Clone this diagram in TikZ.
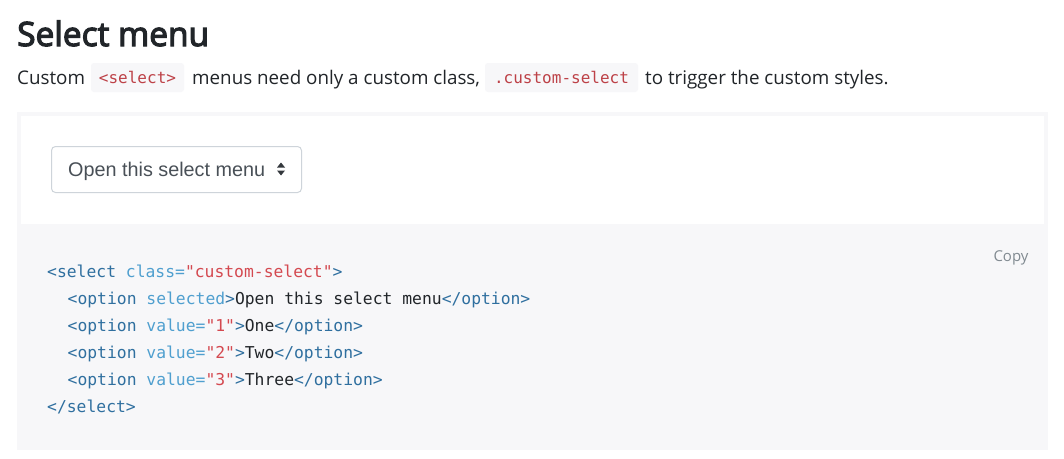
\documentclass[tikz,border=0pt]{standalone}
\usepackage{fontspec}
\setmainfont{Open Sans}
\newfontfamily\titlefont{Open Sans}[FakeBold=3.5]
\newfontfamily\codefont{DejaVu Sans Mono}
\newfontfamily\selfont{Liberation Sans}
\definecolor{txt}{HTML}{212529}
\definecolor{pillbg}{HTML}{F7F7F9}
\definecolor{pillfg}{HTML}{BD4147}
\definecolor{tagc}{HTML}{2F6F9F}
\definecolor{attrc}{HTML}{4F9FCF}
\definecolor{strc}{HTML}{D44950}
\definecolor{plainc}{HTML}{212529}
\definecolor{copyc}{HTML}{818A91}
\definecolor{selbd}{HTML}{CED4DA}
\definecolor{seltx}{HTML}{495057}
\newcommand\mytag[1]{\textcolor{tagc}{#1}}
\newcommand\myattr[1]{\textcolor{attrc}{#1}}
\newcommand\mystr[1]{\textcolor{strc}{#1}}
\begin{document}
\begin{tikzpicture}[x=1pt,y=-1pt,
  para/.style={anchor=base west,inner sep=0pt,text=txt,font=\fontsize{18.8}{22}\selectfont},
  pill/.style={fill=pillbg,rounded corners=3pt},
  pilltext/.style={inner sep=0pt,text=pillfg,font=\codefont\fontsize{16}{20}\selectfont},
  codeline/.style={anchor=base west,inner sep=0pt,text=plainc,font=\codefont\fontsize{16.35}{20}\selectfont},
]
\useasboundingbox (0,0) rectangle (1064,458);
\fill[white] (0,0) rectangle (1064,458);
% title
\node[anchor=base west,inner sep=0pt,text=txt,font=\titlefont\fontsize{33.5}{38}\selectfont] (title) at (17,46) {Select menu};
% paragraph
\node[para] (p1) at (17,84) {Custom};
\fill[pill] (91,63) rectangle (184,92);
\node[pilltext] (c1) at (137.5,77.5) {<select>};
\node[para] (p2) at (192,84) {menus need only a custom class,};
\fill[pill] (485,63) rectangle (638,92);
\node[pilltext] (c2) at (561.5,77.5) {.custom-select};
\node[para] (p3) at (645,84) {to trigger the custom styles.};
% example box
\fill[pillbg] (17,112) rectangle (1048,224);
\fill[white] (21,116) rectangle (1044,224);
\draw[selbd,line width=1pt,rounded corners=4pt] (51.5,146.5) rectangle (301.5,192.5);
\node[anchor=base west,inner sep=0pt,text=seltx,font=\selfont\fontsize{19.8}{24}\selectfont] (sel) at (68,176) {Open this select menu};
\fill[seltx!70!black] (277,167.5) -- (281,162.5) -- (285,167.5) -- cycle;
\fill[seltx!70!black] (277,170.5) -- (281,175.5) -- (285,170.5) -- cycle;
% code area
\fill[pillbg] (17,224) rectangle (1048,450);
\node[anchor=base,inner sep=0pt,text=copyc,font=\fontsize{15}{18}\selectfont] (copy) at (1011,261) {Copy};
\node[codeline] (l1) at (47,277) {\mytag{<select} \myattr{class=}\mystr{"custom-select"}\mytag{>}};
\node[codeline] (l2) at (67.5,304) {\mytag{<option} \myattr{selected}\mytag{>}Open this select menu\mytag{</option>}};
\node[codeline] (l3) at (67.5,331) {\mytag{<option} \myattr{value=}\mystr{"1"}\mytag{>}One\mytag{</option>}};
\node[codeline] (l4) at (67.5,358) {\mytag{<option} \myattr{value=}\mystr{"2"}\mytag{>}Two\mytag{</option>}};
\node[codeline] (l5) at (67.5,385) {\mytag{<option} \myattr{value=}\mystr{"3"}\mytag{>}Three\mytag{</option>}};
\node[codeline] (l6) at (47,412) {\mytag{</select>}};
\end{tikzpicture}
\end{document}
